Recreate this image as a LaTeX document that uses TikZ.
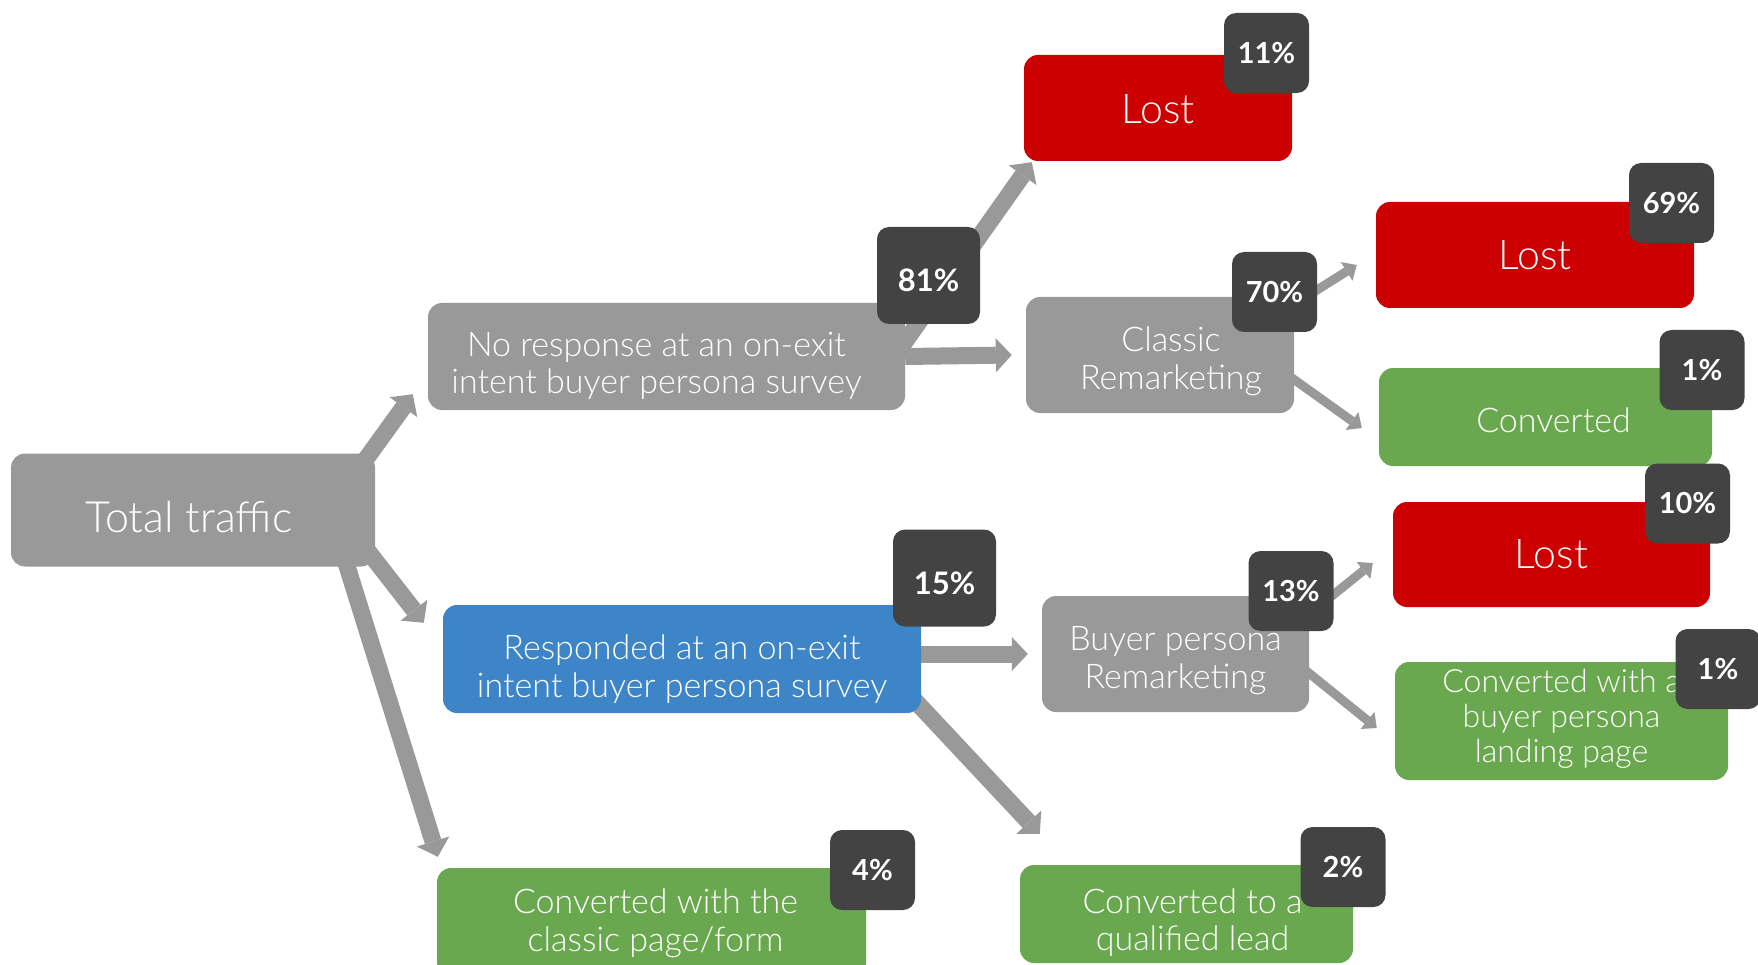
\documentclass[tikz,border=0pt]{standalone}
\usepackage{fontspec}
\setmainfont{Lato Light}[BoldFont={Lato Bold}]
\usepackage{xcolor}
\usepackage{tikz}
\usetikzlibrary{arrows.meta}
\usetikzlibrary{backgrounds}
\definecolor{boxgrey}{HTML}{999999}
\definecolor{lostred}{HTML}{CC0000}
\definecolor{convgreen}{HTML}{6AA84F}
\definecolor{respblue}{HTML}{3D85C6}
\definecolor{badgegrey}{HTML}{434343}
\newcommand{\bigarrow}{-{Triangle[length=16pt,width=34pt,line width=0pt]}}
\newcommand{\smallarrow}{-{Triangle[length=12pt,width=22pt,line width=0pt]}}
\newcommand{\boxlines}[3][0pt]{\hspace*{#2}\raisebox{-#1}[\height][\depth]{\begin{tabular}{@{}c@{}}#3\end{tabular}}\hspace*{-#2}}
\tikzset{
	box/.style={rounded corners=14pt,text=white,inner sep=0pt,font=\fontsize{34}{37.5}\selectfont},
	greybox/.style={box,fill=boxgrey},
	lostbox/.style={box,fill=lostred,minimum height=106pt,font=\fontsize{41}{48}\selectfont},
	convbox/.style={box,fill=convgreen},
	respbox/.style={box,fill=respblue},
	badge/.style={fill=badgegrey,rounded corners=12pt,text=white,inner sep=0pt,minimum width=85pt,minimum height=80pt,font=\bfseries\fontsize{29}{34}\selectfont},
	bigbadge/.style={badge,minimum width=103pt,minimum height=97pt,font=\bfseries\fontsize{31}{36}\selectfont},
	flow/.style={draw=boxgrey,line width=17pt,\bigarrow},
	smallflow/.style={draw=boxgrey,line width=9pt,\smallarrow}
}
\begin{document}
\begin{tikzpicture}[x=1pt,y=-1pt]
		\useasboundingbox (0,0) rectangle (1758,965);
		\node[greybox,minimum width=364pt,minimum height=113pt,font=\fontsize{43}{50}\selectfont] (total) at (193,510) {\boxlines[12.5pt]{-4pt}{Total traffic}};
		\node[greybox,minimum width=477pt,minimum height=107pt] (noresp) at (666.5,356.5) {\boxlines[11pt]{-10pt}{No response at an on-exit\\intent buyer persona survey}};
		\node[respbox,minimum width=478pt,minimum height=108pt] (resp) at (682,659) {\boxlines[12pt]{0pt}{Responded at an on-exit\\intent buyer persona survey}};
		\node[convbox,minimum width=429pt,minimum height=108pt] (form) at (651.5,922) {\boxlines[3pt]{4pt}{Converted with the\\classic page/form}};
		\node[lostbox,minimum width=268pt] (losta) at (1158,108) {\boxlines[6pt]{0pt}{Lost}};
		\node[greybox,minimum width=268pt,minimum height=116pt] (classic) at (1160,355) {\boxlines[8pt]{11pt}{Classic\\Remarketing}};
		\node[greybox,minimum width=267pt,minimum height=116pt] (buyer) at (1175.5,654) {\boxlines[8pt]{0pt}{Buyer persona\\Remarketing}};
		\node[convbox,minimum width=333pt,minimum height=98pt] (lead) at (1186.5,914) {\boxlines[10.5pt]{6pt}{Converted to a\\qualified lead}};
		\node[lostbox,minimum width=318pt] (lostb) at (1535,255) {\boxlines[5pt]{0pt}{Lost}};
		\node[convbox,minimum width=333pt,minimum height=98pt] (conv) at (1545.5,417) {\boxlines[7.5pt]{8pt}{Converted}};
		\node[lostbox,minimum width=317pt,minimum height=105pt] (lostc) at (1551.5,554.5) {\boxlines[4pt]{0pt}{Lost}};
		\node[convbox,minimum width=333pt,minimum height=118pt,font=\fontsize{32}{35}\selectfont] (landing) at (1561.5,721) {\boxlines[-1pt]{0pt}{Converted with a\\buyer persona\\landing page}};
		\node[bigbadge] (p81) at (928.5,275.5) {\raisebox{-5pt}[\height][\depth]{81\%}};
		\node[bigbadge] (p15) at (944.5,578) {\raisebox{-5pt}[\height][\depth]{15\%}};
		\node[badge] (p11) at (1266.5,53) {11\%};
		\node[badge] (p70) at (1274.5,292) {70\%};
		\node[badge] (p13) at (1291,591) {13\%};
		\node[badge] (p4) at (872.5,870) {4\%};
		\node[badge] (p2) at (1343,867) {2\%};
		\node[badge] (p69) at (1671.5,203) {69\%};
		\node[badge] (p1a) at (1702,370) {1\%};
		\node[badge] (p10) at (1687.5,503.5) {10\%};
		\node[badge] (p1b) at (1718,669) {1\%};
		\begin{scope}[on background layer]
		\draw[flow] ([shift={(-17,16.5)}]total.north east) -- ([shift={(-15,-16)}]noresp.south west);
		\draw[flow] ([shift={(-19,26)}]total.east) -- ([shift={(-19,18)}]resp.north west);
		\draw[flow] ([shift={(-33,-16)}]total.south east) -- ([shift={(1,-11)}]form.north west);
		\draw[flow] ([shift={(-5,-8)}]noresp.east) -- ([shift={(8,1)}]losta.south west);
		\draw[flow] (noresp.east) -- ([shift={(-14,0)}]classic.west);
		\draw[flow] ([shift={(0,-5)}]resp.east) -- ([shift={(-14,0)}]buyer.west);
		\draw[flow] ([shift={(-16,-23)}]resp.south east) -- ([shift={(20,-31)}]lead.north west);
		\draw[smallflow] ([shift={(-4,10)}]classic.north east) -- ([shift={(-19,10)}]lostb.west);
		\draw[smallflow] ([shift={(-9,-40)}]classic.south east) -- ([shift={(-17,11)}]conv.west);
		\draw[smallflow] ([shift={(-2,20)}]buyer.north east) -- ([shift={(-20,8.5)}]lostc.west);
		\draw[smallflow] ([shift={(-9,12)}]buyer.east) -- ([shift={(-18,7)}]landing.west);
		\end{scope}
\end{tikzpicture}
\end{document}
